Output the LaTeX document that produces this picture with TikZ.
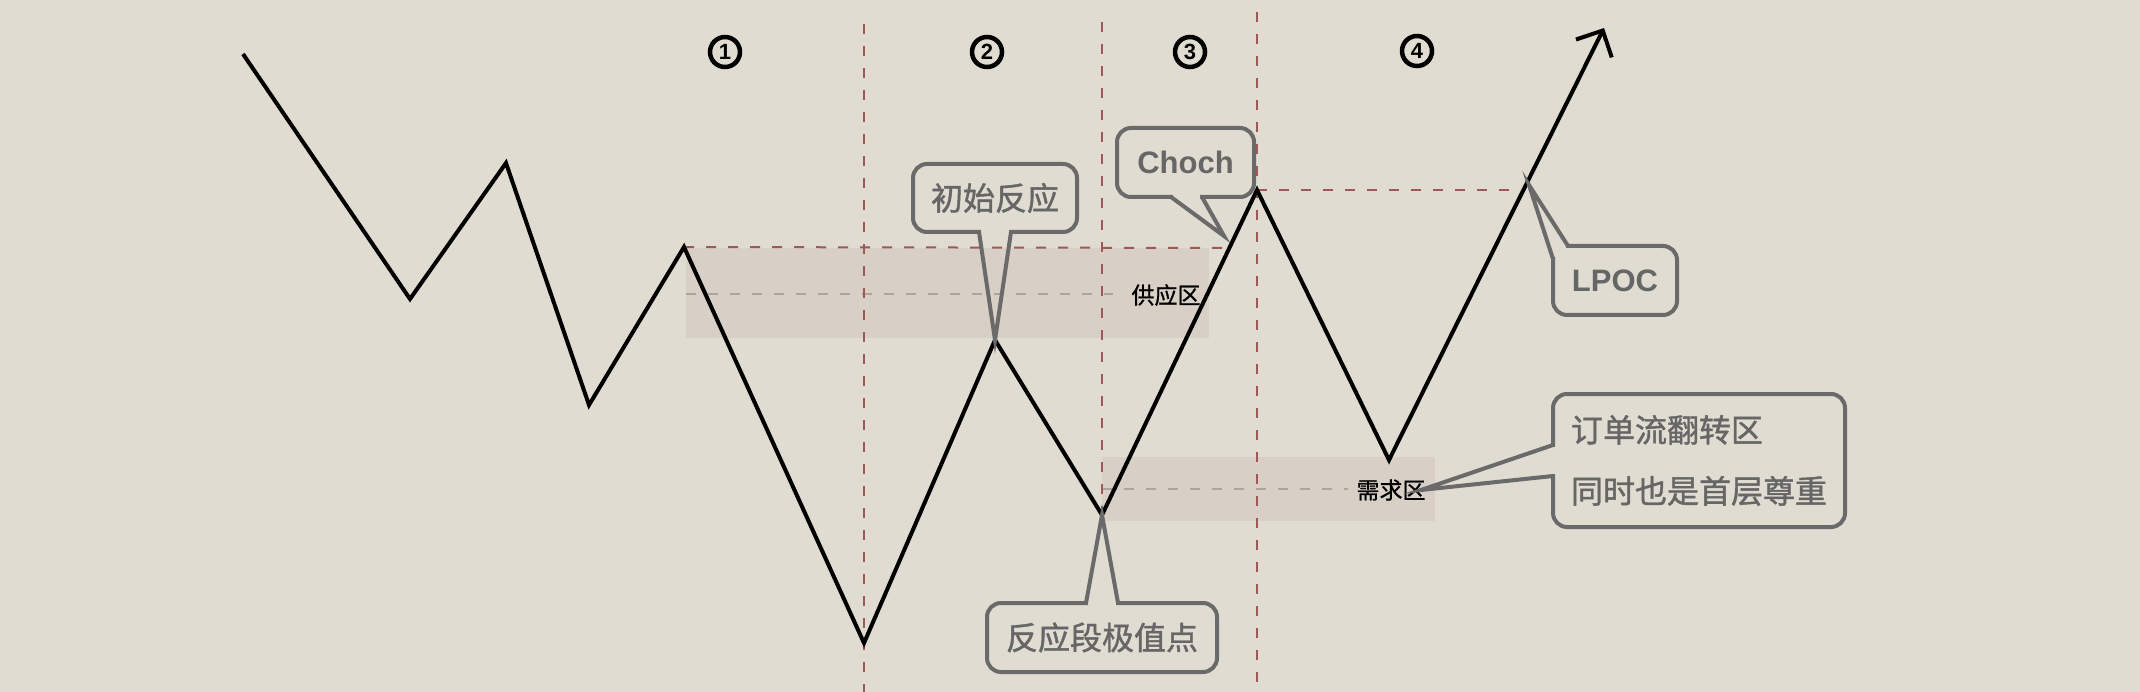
\documentclass[tikz,border=0pt]{standalone}
\usepackage{fontspec}
\setmainfont{Liberation Sans}
\newfontfamily\cjk[FakeBold=1.3]{Noto Sans CJK SC}
\newfontfamily\cjkz[FakeBold=1.0]{Noto Sans CJK SC}
\usetikzlibrary{calc,arrows.meta}
\definecolor{bgc}{HTML}{E0DCD1}
\definecolor{zonec}{HTML}{D8D0C6}
\definecolor{redd}{HTML}{9B5A57}
\definecolor{grayd}{HTML}{ADA59B}
\definecolor{callc}{HTML}{6A6A6A}
\definecolor{txtc}{HTML}{666666}
\begin{document}
\begin{tikzpicture}[x=1pt,y=-1pt,
  zigzag/.style={line width=4pt,draw=black},
  vdash/.style={draw=redd,line width=2pt,dash pattern=on 10pt off 12pt},
  gdash/.style={draw=grayd,line width=2pt,dash pattern=on 10pt off 12pt},
  zone/.style={fill=zonec},
  callout/.style={draw=callc,line width=4pt,rounded corners=14pt,fill=bgc,text=txtc,inner sep=0pt,outer sep=0pt},
  cjktext/.style={font=\cjk\fontsize{32}{38}\selectfont},
  lattext/.style={font=\bfseries\fontsize{31}{36}\selectfont},
  pointer/.style={draw=callc,line width=4pt},
  cover/.style={fill=bgc},
  numc/.style={circle,draw=black,line width=4.5pt,minimum size=30pt,inner sep=0pt,font=\bfseries\fontsize{22}{22}\selectfont},
  zonelabel/.style={font=\cjkz\fontsize{23}{26}\selectfont,text=black,inner sep=0pt}
]
\fill[bgc] (0,0) rectangle (2140,692);
\useasboundingbox (0,0) rectangle (2140,692);

% vertices of the price path
\coordinate (p0) at (243,54);
\coordinate (p1) at (410,299);
\coordinate (p2) at (506,163);
\coordinate (p3) at (589,405);
\coordinate (p4) at (684,247);
\coordinate (p5) at (864,643);
\coordinate (p6) at (995,340);
\coordinate (p7) at (1102,515);
\coordinate (p8) at (1257,190);
\coordinate (p9) at (1389,460);
\coordinate (p10) at (1604,28);

% zones
\fill[zone] (686,248) rectangle (1209,338);
\fill[zone] (1102,457) rectangle (1435,521);

% helper coordinates
\coordinate (s1) at (686,294);
\coordinate (s2) at (1113,294);
\coordinate (d1) at (1102,489);
\coordinate (d2) at (1348,489);
\coordinate (hs) at (1226,248);
\coordinate (he) at (1520,190);
\coordinate (v1t) at (864,24);
\coordinate (v1b) at (864,692);
\coordinate (v2t) at (1102,22);
\coordinate (v3t) at (1257,12);
\coordinate (v3b) at (1257,682);

\draw[gdash] (s1) -- (s2);
\draw[gdash] (d1) -- (d2);
\draw[vdash] (p4) -- (hs);
\draw[vdash] (p8) -- (he);
\draw[vdash] (v1t) -- (v1b);
\draw[vdash] (v2t) -- (p7);
\draw[vdash] (v3t) -- (v3b);

% price path
\draw[zigzag,-{Straight Barb[length=20pt,width=40pt]}] (p0) -- (p1) -- (p2) -- (p3) -- (p4) -- (p5) -- (p6) -- (p7) -- (p8) -- (p9) -- (p10);

% zone labels
\node[zonelabel] (sl) at (1166,295) {供应区};
\node[zonelabel] (dl) at (1391,490) {需求区};

% phase numbers
\node[numc] (n1) at (725,52) {1};
\node[numc] (n2) at (987,52) {2};
\node[numc] (n3) at (1190,52) {3};
\node[numc] (n4) at (1417,51) {4};

% callout: 初始反应
\node[callout,cjktext,minimum width=164pt,minimum height=68pt] (c1) at (995,198) {初始反应};
\fill[cover] ($(c1.south)+(-14,-3)$) rectangle ($(c1.south)+(14,3)$);
\draw[pointer] ($(c1.south)+(-16,0)$) -- (p6) -- ($(c1.south)+(16,0)$);

% callout: Choch
\coordinate (chtip) at (1224,236);
\node[callout,lattext,minimum width=137pt,minimum height=69pt] (c2) at (1185.5,162.5) {Choch};
\fill[cover] ($(c2.south)+(-12.5,-3)$) rectangle ($(c2.south)+(14.5,3)$);
\draw[pointer] ($(c2.south)+(-14.5,0)$) -- (chtip) -- ($(c2.south)+(16.5,0)$);

% callout: 反应段极值点
\node[callout,cjktext,minimum width=230pt,minimum height=69pt] (c3) at (1102,637.5) {反应段极值点};
\fill[cover] ($(c3.north)+(-14,-3)$) rectangle ($(c3.north)+(14,3)$);
\draw[pointer] ($(c3.north)+(-16,0)$) -- (p7) -- ($(c3.north)+(16,0)$);

% callout: LPOC
\coordinate (lptip) at (1529,185);
\node[callout,lattext,minimum width=124pt,minimum height=69pt] (c4) at (1615,280.5) {LPOC};
\fill[cover] ($(c4.north west)+(-3,-3)$) rectangle ($(c4.north west)+(13,11)$);
\draw[pointer] ($(c4.north west)+(0,13)$) -- (lptip) -- ($(c4.north west)+(15,0)$);

% callout: 订单流翻转区
\coordinate (dtip) at (1421,490);
\node[callout,font=\cjk\fontsize{32}{61}\selectfont,align=left,minimum width=292pt,minimum height=133pt] (c5) at (1699,460.5) {订单流翻转区\\同时也是首层尊重};
\fill[cover] ($(c5.west)+(-3,-13.5)$) rectangle ($(c5.west)+(3,13.5)$);
\draw[pointer] ($(c5.west)+(0,-15.5)$) -- (dtip) -- ($(c5.west)+(0,15.5)$);
\end{tikzpicture}
\end{document}
